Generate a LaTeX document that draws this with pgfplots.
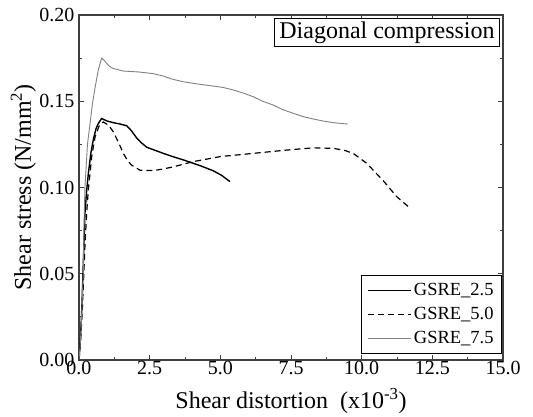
\documentclass[border=0pt]{standalone}
\usepackage{fontspec}
\setmainfont{Liberation Serif}
\usepackage{pgfplots}
\pgfplotsset{compat=1.18}
\begin{document}
\begin{tikzpicture}
\begin{axis}[
  scale only axis, width=424pt, height=345pt,
  at={(0,0)}, anchor=south west,
  xmin=0, xmax=15, ymin=0, ymax=0.2,
  xtick={0,2.5,5,7.5,10,12.5,15},
  ytick={0,0.05,0.1,0.15,0.2},
  minor x tick num=1, minor y tick num=1,
  tick align=inside, tick pos=both,
  major tick length=5pt, minor tick length=3pt,
  axis line style={draw=black!75, line width=1.2pt},
  every tick/.style={draw=black!75, line width=0.8pt},
  scaled y ticks=false, scaled x ticks=false,
  /pgf/number format/assume math mode=true,
  xticklabel style={/pgf/number format/.cd, fixed, fixed zerofill, precision=1, /tikz/.cd, font=\fontsize{20}{20}\selectfont, yshift=2pt},
  yticklabel style={/pgf/number format/.cd, fixed, fixed zerofill, precision=2, /tikz/.cd, font=\fontsize{20}{20}\selectfont, xshift=-1pt},
  xlabel={Shear distortion\ \ (x10\textsuperscript{-3})},
  ylabel={Shear stress (N/mm\textsuperscript{2})},
  every axis x label/.style={at={(rel axis cs:0.5,-0.142)}, anchor=base, font=\fontsize{24}{24}\selectfont},
  every axis y label/.style={at={(rel axis cs:-0.1132,0.5)}, anchor=base, rotate=90, font=\fontsize{24}{24}\selectfont},
  legend cell align=left,
  legend style={at={(rel axis cs:1,0)}, anchor=south east, xshift=-1pt, yshift=6pt,
    draw=black, line width=0.8pt, fill=white, row sep=0pt, inner xsep=6pt, inner ysep=3pt,
    font=\fontsize{18.5}{18.5}\selectfont,
    nodes={text height=14pt, text depth=5pt, inner ysep=2.5pt, inner xsep=2pt}},
  legend image code/.code={\draw[#1] (0pt,0pt) -- (43pt,0pt);},
]
\addplot[black, line width=1.4pt] coordinates {
(0,0) (0.05,0.012) (0.1,0.03) (0.14,0.05) (0.17,0.065) (0.21,0.085) (0.27,0.098) (0.33,0.108) (0.42,0.120) (0.51,0.128)
(0.60,0.134) (0.68,0.137) (0.80,0.140)
(1.0,0.1385) (1.21,0.1376) (1.45,0.1368) (1.69,0.1358) (1.85,0.133) (2.05,0.1285) (2.20,0.126) (2.40,0.1233) (2.70,0.1215) (2.98,0.1198)
(3.30,0.118) (3.69,0.116) (4.28,0.1127) (4.75,0.1097) (5.05,0.107) (5.34,0.1034)};
\addlegendentry{GSRE\_2.5}
\addplot[black, line width=1.2pt, dash pattern=on 6pt off 4pt] coordinates {
(0,0) (0.06,0.012) (0.12,0.03) (0.17,0.05) (0.21,0.066) (0.27,0.085) (0.33,0.0986) (0.45,0.118) (0.57,0.1295) (0.72,0.136) (0.86,0.138)
(1.05,0.136) (1.21,0.1324) (1.40,0.126) (1.57,0.1198) (1.72,0.1155) (1.86,0.113) (2.16,0.110) (2.63,0.1098) (3.0,0.1108) (3.34,0.112)
(4.04,0.115) (4.99,0.1179) (6.17,0.1198) (7.35,0.1217) (8.29,0.123) (9.0,0.1227) (9.40,0.1215) (9.70,0.1198)
(10.18,0.114) (10.76,0.104) (11.24,0.0947) (11.65,0.0889)};
\addlegendentry{GSRE\_5.0}
\addplot[black!50, line width=0.9pt] coordinates {
(0,0) (0.04,0.008) (0.08,0.02) (0.15,0.05) (0.18,0.08) (0.21,0.10) (0.30,0.125) (0.39,0.137) (0.48,0.149) (0.57,0.158) (0.68,0.168) (0.80,0.175)
(0.90,0.1735) (1.0,0.1715) (1.10,0.170) (1.21,0.169) (1.57,0.1675) (2.10,0.167) (2.63,0.166) (2.98,0.1646) (3.30,0.1628) (3.69,0.1613)
(4.20,0.160) (4.75,0.1588) (5.10,0.158) (5.46,0.1565) (5.80,0.1548) (6.17,0.1526) (6.50,0.150) (6.87,0.1478) (7.20,0.1452) (7.58,0.143) (7.95,0.141) (8.29,0.1397) (8.65,0.1385) (9.0,0.1376) (9.50,0.1368)};
\addlegendentry{GSRE\_7.5}
\node[draw=black, line width=0.8pt, fill=white, anchor=north east, font=\fontsize{24}{24}\selectfont,
  inner xsep=5pt, inner ysep=3pt, text height=17pt, text depth=5pt]
  at (rel axis cs:0.993,0.991) {Diagonal compression};
\end{axis}
\pgfresetboundingbox
\path[use as bounding box] (-79pt,-56pt) rectangle (454pt,360pt);
\end{tikzpicture}
\end{document}
